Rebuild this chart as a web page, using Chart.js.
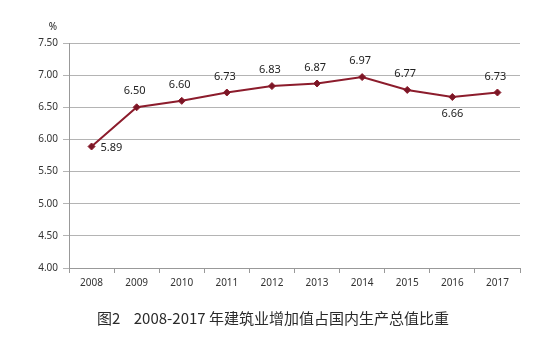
<!DOCTYPE html>
<html>
<head>
<meta charset="utf-8">
<script src="https://cdn.jsdelivr.net/npm/chart.js@4"></script>
<style>
  html, body { margin: 0; padding: 0; background: #fff; }
  #wrap { width: 558px; height: 351px; }
</style>
</head>
<body>
<div id="wrap"><canvas id="myChart" width="558" height="351"></canvas></div>
<script>
const years = ['2008', '2009', '2010', '2011', '2012', '2013', '2014', '2015', '2016', '2017'];
const shares = [5.89, 6.50, 6.60, 6.73, 6.83, 6.87, 6.97, 6.77, 6.66, 6.73];
const labelSide = ['right', 'above', 'above', 'above', 'above', 'above', 'above', 'above', 'below', 'above'];
const titleText = '图2    2008-2017 年建筑业增加值占国内生产总值比重';

// value labels next to each point, the "%" unit over the y axis and the caption below
const labelPlugin = {
    id: 'pointLabels',
    afterDatasetsDraw(chart) {
        const ctx = chart.ctx;
        const meta = chart.getDatasetMeta(0);
        ctx.save();
        ctx.font = '11px "Noto Sans", sans-serif';
        ctx.fillStyle = '#222';
        ctx.textBaseline = 'middle';
        meta.data.forEach((pt, i) => {
            const txt = shares[i].toFixed(2);
            const side = labelSide[i];
            if (side === 'right') {
                ctx.textAlign = 'left';
                ctx.fillText(txt, pt.x + 9, pt.y + 1);
            } else if (side === 'below') {
                ctx.textAlign = 'center';
                ctx.fillText(txt, pt.x, pt.y + 17);
            } else {
                ctx.textAlign = 'center';
                ctx.fillText(txt, pt.x - 2, pt.y - 16);
            }
        });
        const y = chart.scales.y;
        ctx.textAlign = 'center';
        ctx.font = '10px "Noto Sans", sans-serif';
        ctx.fillText('%', y.right - 16, chart.chartArea.top - 16);

        // caption
        ctx.fillStyle = '#2a2a2a';
        ctx.font = '15px "Noto Sans CJK SC", sans-serif';
        ctx.fillText(titleText, 273, chart.chartArea.bottom + 50);
        ctx.restore();
    }
};

new Chart(document.getElementById('myChart').getContext('2d'), {
    type: 'line',
    data: {
        labels: years,
        datasets: [{
            data: shares,
            borderColor: '#8c1c2c',
            backgroundColor: '#7a1626',
            borderWidth: 2,
            pointStyle: 'rectRot',
            pointRadius: 3.5,
            pointBorderWidth: 1,
            fill: false,
            tension: 0
        }]
    },
    options: {
        responsive: false,
        animation: false,
        layout: {
            padding: { top: 43, right: 38, left: 0, bottom: 53 }
        },
        plugins: {
            legend: { display: false },
            tooltip: { enabled: false },
            title: { display: false }
        },
        scales: {
            x: {
                offset: true,
                grid: {
                    offset: true,
                    drawOnChartArea: false,
                    tickLength: 5,
                    color: '#999'
                },
                border: { color: '#999', width: 1 },
                ticks: {
                    color: '#333',
                    padding: 4,
                    maxRotation: 0,
                    font: { family: '"Noto Sans", sans-serif', size: 10 }
                },
                afterFit(scale) { scale.height = 30; }
            },
            y: {
                min: 4,
                max: 7.5,
                grid: {
                    color: '#b4b4b4',
                    tickLength: 6,
                    lineWidth: 1
                },
                border: { color: '#999', width: 1 },
                ticks: {
                    stepSize: 0.5,
                    color: '#333',
                    padding: 5,
                    font: { family: '"Noto Sans", sans-serif', size: 10 },
                    callback: v => v.toFixed(2)
                },
                afterFit(scale) { scale.width = 69; }
            }
        }
    },
    plugins: [labelPlugin]
});
</script>
</body>
</html>
